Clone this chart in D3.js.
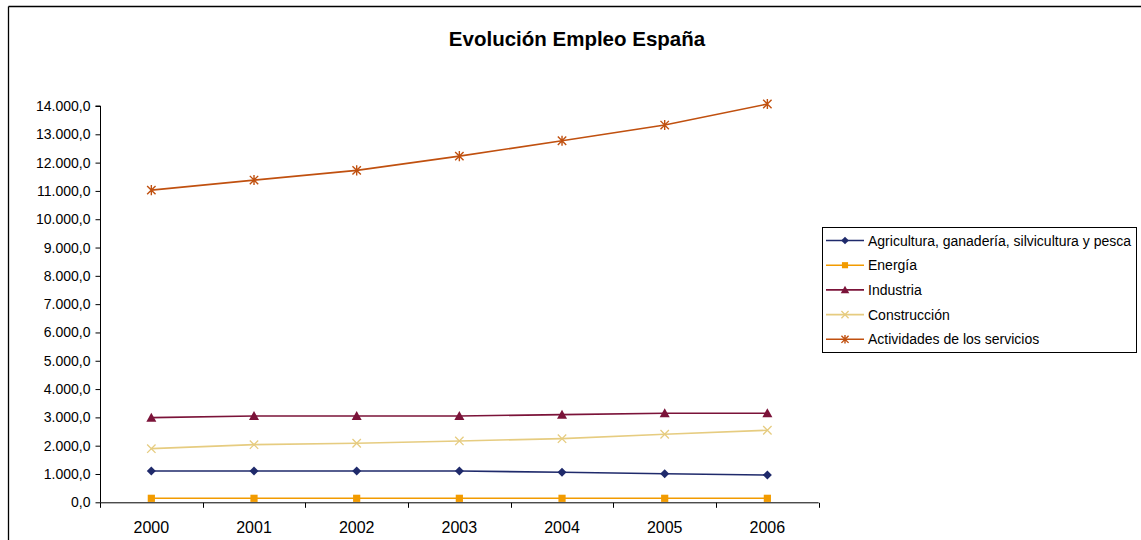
<!DOCTYPE html>
<html><head><meta charset="utf-8">
<script src="https://cdn.jsdelivr.net/npm/d3@7"></script>
<style>body{margin:0;background:#fff}svg{display:block}text{font-family:"Liberation Sans",Arial,sans-serif}</style>
</head><body>
<svg id="c" width="1141" height="540"></svg>
<script>
const years = ["2000","2001","2002","2003","2004","2005","2006"];
const seriesNames = ["Agricultura, ganadería, silvicultura y pesca","Energía","Industria","Construcción","Actividades de los servicios"];
const agricultura = [1106,1106,1106,1106,1060,1011,965];
const energia = [141,141,141,141,141,141,141];
const industria = [2990,3050,3050,3050,3097,3146,3146];
const construccion = [1895,2036,2085,2167,2249,2404,2545];
const servicios = [11029,11383,11725,12230,12772,13326,14069];
const yTicks = [0,1000,2000,3000,4000,5000,6000,7000,8000,9000,10000,11000,12000,13000,14000];
const colors = ["#1f2a6b","#f29b00","#7b1339","#e6cc80","#c0500f"];
const markers = ["diamond","square","triangle","x","star"];
const seriesValues = [agricultura,energia,industria,construccion,servicios];

const svg = d3.select("#c");
svg.append("line").attr("x1",8.5).attr("x2",1141).attr("y1",6.5).attr("y2",6.5).attr("stroke","#000").attr("stroke-width",1.3);
svg.append("line").attr("x1",8.5).attr("x2",8.5).attr("y1",6.5).attr("y2",540).attr("stroke","#000").attr("stroke-width",1.3);

svg.append("text").attr("x",577).attr("y",46).attr("text-anchor","middle")
  .attr("font-size","20.5px").attr("font-weight","bold").text("Evolución Empleo España");

const x = d3.scaleBand().domain(years).range([100,818.7]);
const y = d3.scaleLinear().domain([0,14000]).range([502.3,106]);
const fmt = v => d3.format(",.1f")(v).replace(/,/g,"#").replace(/\./g,",").replace(/#/g,".");

const yAxis = svg.append("g").attr("transform","translate(100.5,0)")
  .call(d3.axisLeft(y).tickValues(yTicks).tickFormat(fmt).tickSize(5).tickPadding(5));
yAxis.select(".domain").attr("d",`M-5,${y(14000)}H0V${y(0)}`);
yAxis.selectAll("text").attr("font-size","14px").attr("font-family","Liberation Sans, Arial").attr("fill","#000");
yAxis.selectAll("line").attr("stroke","#000");
yAxis.select(".domain").attr("stroke","#000");

const xAxis = svg.append("g").attr("transform",`translate(0,${y(0)+0.5})`);
xAxis.append("line").attr("x1",100).attr("x2",818.7).attr("stroke","#000");
const edges = years.map(d=>x(d)).concat([818.7]);
xAxis.selectAll("line.tk").data(edges).enter().append("line").attr("class","tk")
  .attr("x1",d=>Math.round(d)+0.5).attr("x2",d=>Math.round(d)+0.5).attr("y1",0).attr("y2",5).attr("stroke","#000");
xAxis.selectAll("text").data(years).enter().append("text")
  .attr("x",d=>x(d)+x.bandwidth()/2).attr("y",30).attr("text-anchor","middle")
  .attr("font-size","16px").text(d=>d);

function drawMarker(g, type, color, cx, cy, s){
  if(type==="diamond"){
    g.append("path").attr("d",`M${cx},${cy-s}L${cx+s},${cy}L${cx},${cy+s}L${cx-s},${cy}Z`).attr("fill",color);
  } else if(type==="square"){
    g.append("rect").attr("x",cx-s*0.9).attr("y",cy-s*0.9).attr("width",s*1.8).attr("height",s*1.8).attr("fill",color);
  } else if(type==="triangle"){
    g.append("path").attr("d",`M${cx},${cy-s}L${cx+s},${cy+s*0.8}L${cx-s},${cy+s*0.8}Z`).attr("fill",color);
  } else if(type==="x"){
    g.append("path").attr("d",`M${cx-s},${cy-s}L${cx+s},${cy+s}M${cx-s},${cy+s}L${cx+s},${cy-s}`).attr("stroke",color).attr("stroke-width",1.3).attr("fill","none");
  } else if(type==="star"){
    g.append("path").attr("d",`M${cx-s},${cy-s}L${cx+s},${cy+s}M${cx-s},${cy+s}L${cx+s},${cy-s}M${cx},${cy-s*1.2}L${cx},${cy+s*1.2}`).attr("stroke",color).attr("stroke-width",1.4).attr("fill","none");
  }
}
const sizes = [4.5,4,5,4.2,4.2];

const line = d3.line().x((d,i)=>x(years[i])+x.bandwidth()/2).y(d=>y(d));
seriesValues.forEach((vals,k)=>{
  const g = svg.append("g");
  g.append("path").datum(vals).attr("d",line).attr("fill","none").attr("stroke",colors[k]).attr("stroke-width",1.6);
  vals.forEach((v,i)=>drawMarker(g,markers[k],colors[k],x(years[i])+x.bandwidth()/2,y(v),sizes[k]));
});

const lg = svg.append("g");
lg.append("rect").attr("x",822.5).attr("y",227.5).attr("width",314).attr("height",125).attr("fill","#fff").attr("stroke","#000").attr("stroke-width",1);
seriesNames.forEach((n,k)=>{
  const yy = 240.5 + k*24.7;
  lg.append("line").attr("x1",826).attr("x2",864).attr("y1",yy).attr("y2",yy).attr("stroke",colors[k]).attr("stroke-width",1.6);
  drawMarker(lg,markers[k],colors[k],845,yy,sizes[k]*0.85);
  lg.append("text").attr("x",868).attr("y",yy+5).attr("font-size","14px").text(n);
});
</script>
</body></html>
